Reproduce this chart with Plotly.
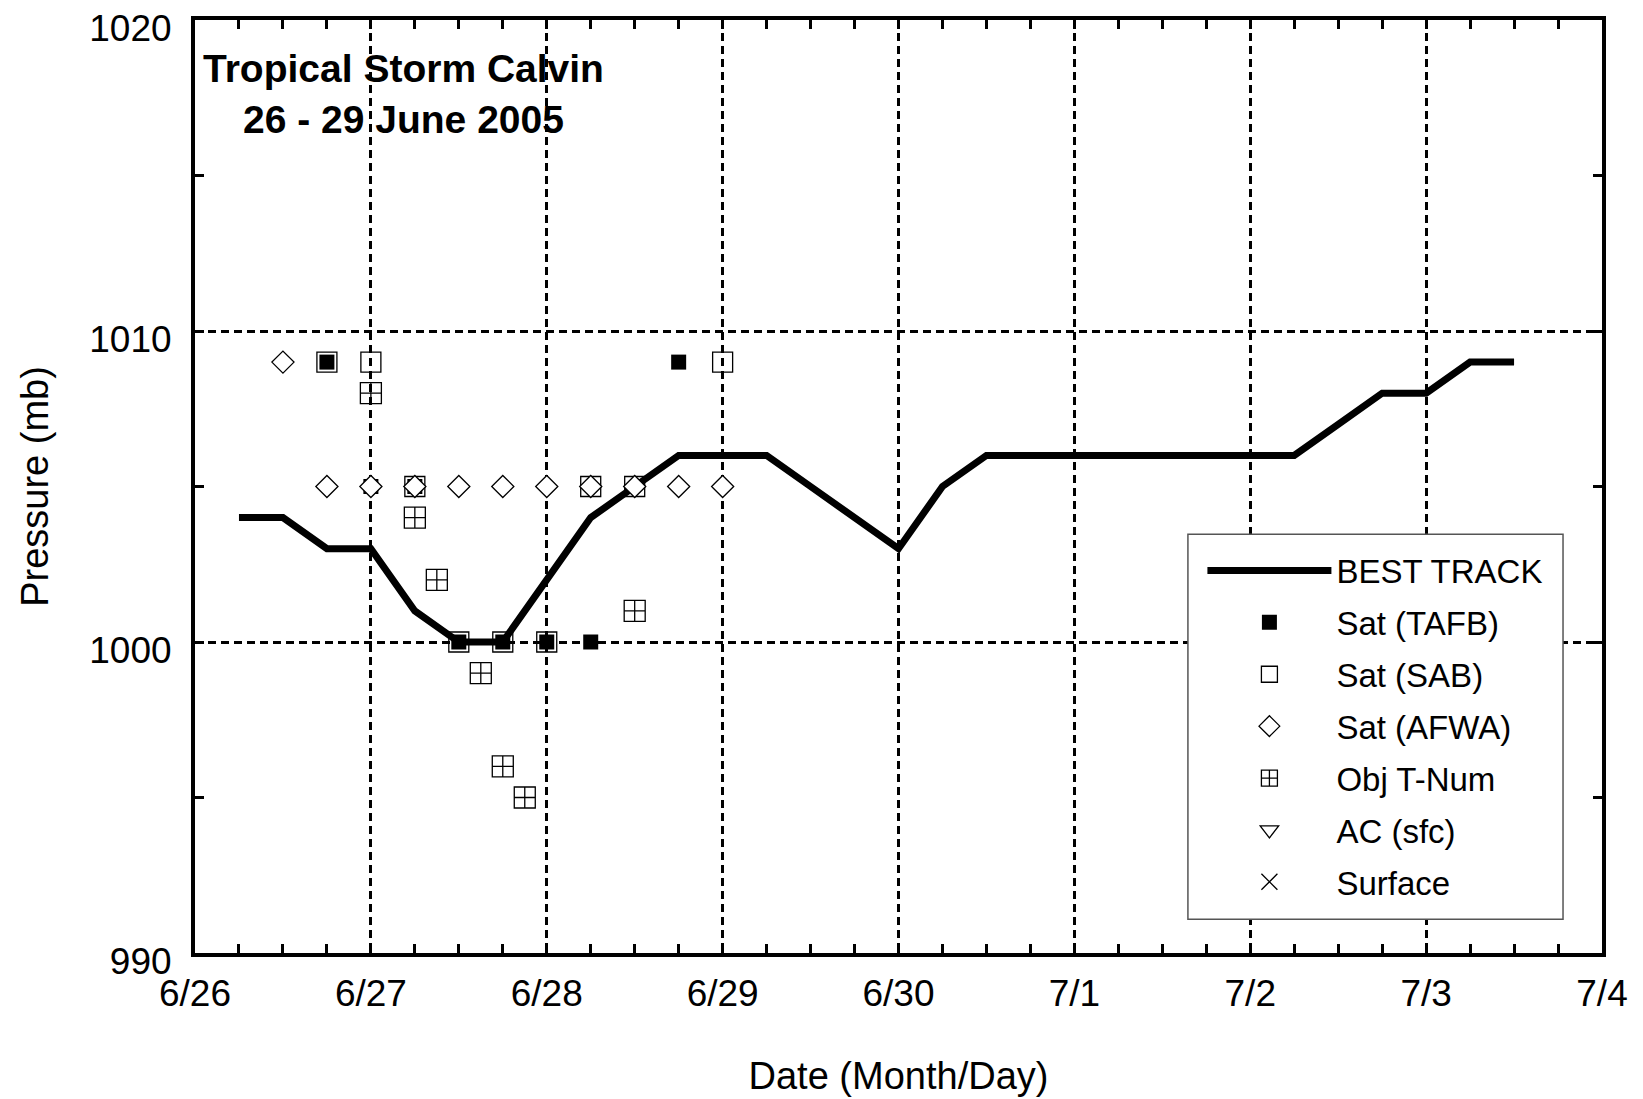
import plotly.graph_objects as go

# ---------------- data ----------------
bt_time = ["2005-06-26 06:00", "2005-06-26 12:00", "2005-06-26 18:00", "2005-06-27 00:00",
           "2005-06-27 06:00", "2005-06-27 12:00", "2005-06-27 18:00", "2005-06-28 00:00",
           "2005-06-28 06:00", "2005-06-28 12:00", "2005-06-28 18:00", "2005-06-29 00:00",
           "2005-06-29 06:00", "2005-06-29 12:00", "2005-06-29 18:00", "2005-06-30 00:00",
           "2005-06-30 06:00", "2005-06-30 12:00", "2005-06-30 18:00", "2005-07-01 00:00",
           "2005-07-01 06:00", "2005-07-01 12:00", "2005-07-01 18:00", "2005-07-02 00:00",
           "2005-07-02 06:00", "2005-07-02 12:00", "2005-07-02 18:00", "2005-07-03 00:00",
           "2005-07-03 06:00", "2005-07-03 12:00"]
bt_pres = [1004, 1004, 1003, 1003, 1001, 1000, 1000, 1002, 1004, 1005, 1006, 1006,
           1006, 1005, 1004, 1003, 1005, 1006, 1006, 1006, 1006, 1006, 1006, 1006,
           1006, 1007, 1008, 1008, 1009, 1009]

tafb_time = ["2005-06-26 18:00", "2005-06-27 00:00", "2005-06-27 06:00", "2005-06-27 12:00",
             "2005-06-27 18:00", "2005-06-28 00:00", "2005-06-28 06:00", "2005-06-28 18:00"]
tafb_pres = [1009, 1005, 1005, 1000, 1000, 1000, 1000, 1009]

sab_time = ["2005-06-26 18:00", "2005-06-27 00:00", "2005-06-27 06:00", "2005-06-27 12:00",
            "2005-06-27 18:00", "2005-06-28 00:00", "2005-06-28 06:00", "2005-06-28 12:00",
            "2005-06-29 00:00"]
sab_pres = [1009, 1009, 1005, 1000, 1000, 1000, 1005, 1005, 1009]

afwa_time = ["2005-06-26 12:00", "2005-06-26 18:00", "2005-06-27 00:00", "2005-06-27 06:00",
             "2005-06-27 12:00", "2005-06-27 18:00", "2005-06-28 00:00", "2005-06-28 06:00",
             "2005-06-28 12:00", "2005-06-28 18:00", "2005-06-29 00:00"]
afwa_pres = [1009, 1005, 1005, 1005, 1005, 1005, 1005, 1005, 1005, 1005, 1005]

objt_time = ["2005-06-27 00:00", "2005-06-27 06:00", "2005-06-27 09:00", "2005-06-27 15:00",
             "2005-06-27 18:00", "2005-06-27 21:00", "2005-06-28 12:00"]
objt_pres = [1008, 1004, 1002, 999, 996, 995, 1001]

ac_time, ac_pres = [None], [None]
sfc_time, sfc_pres = [None], [None]

x_range = ["2005-06-26 00:00", "2005-07-04 00:00"]
y_range = [990, 1020]
title_text = "<b>Tropical Storm Calvin<br>26 - 29 June 2005</b>"

FONT = "Arial, Liberation Sans, sans-serif"

# ---------------- figure ----------------
fig = go.Figure()

fig.add_trace(go.Scatter(x=bt_time, y=bt_pres, mode="lines", name="BEST TRACK",
                         line=dict(color="black", width=7), legendgroup="g1"))
fig.add_trace(go.Scatter(x=tafb_time, y=tafb_pres, mode="markers", name="Sat (TAFB)",
                         marker=dict(symbol="square", size=15, color="black",
                                     line=dict(width=0)), legendgroup="g2"))
fig.add_trace(go.Scatter(x=sab_time, y=sab_pres, mode="markers", name="Sat (SAB)",
                         marker=dict(symbol="square-open", size=20, color="black",
                                     line=dict(width=1.3, color="black")), legendgroup="g3"))
fig.add_trace(go.Scatter(x=afwa_time, y=afwa_pres, mode="markers", name="Sat (AFWA)",
                         marker=dict(symbol="diamond", size=17, color="white",
                                     line=dict(width=1.3, color="black")), legendgroup="g4"))
fig.add_trace(go.Scatter(x=objt_time, y=objt_pres, mode="markers", name="Obj T-Num",
                         marker=dict(symbol="square-cross-open", size=21, color="black",
                                     line=dict(width=1.3, color="black")), legendgroup="g5"))
fig.add_trace(go.Scatter(x=ac_time, y=ac_pres, mode="markers", name="AC (sfc)",
                         marker=dict(symbol="triangle-down-open", size=18, color="black",
                                     line=dict(width=1.3, color="black")), legendgroup="g6"))
fig.add_trace(go.Scatter(x=sfc_time, y=sfc_pres, mode="markers", name="Surface",
                         marker=dict(symbol="x-thin-open", size=18, color="black",
                                     line=dict(width=1.3, color="black")), legendgroup="g7"))

axis_common = dict(
    showline=True, linecolor="black", linewidth=4, mirror="ticks",
    ticks="inside", ticklen=9, tickwidth=3, tickcolor="black",
    showgrid=True, gridcolor="black", gridwidth=2.5, griddash="8px,5px",
    zeroline=False, ticklabeloverflow="allow", automargin=False,
    tickfont=dict(family=FONT, size=37, color="black"),
)

fig.update_xaxes(
    **axis_common,
    type="date", range=x_range, tick0="2005-06-26", dtick=86400000,
    tickformat="%-m/%-d", ticklabelstandoff=5,
    minor=dict(dtick=21600000, ticks="inside", ticklen=9, tickwidth=3,
               tickcolor="black", showgrid=False),
    title=dict(text="Date (Month/Day)", font=dict(family=FONT, size=38, color="black"),
               standoff=50),
)
fig.update_yaxes(
    **axis_common,
    range=y_range, dtick=10, tick0=990, ticklabelstandoff=12, ticklabelshift=8,
    minor=dict(dtick=5, ticks="inside", ticklen=9, tickwidth=3,
               tickcolor="black", showgrid=False),
    title=dict(text="Pressure (mb)", font=dict(family=FONT, size=38, color="black"),
               standoff=30),
)

fig.add_annotation(text=title_text, xref="paper", yref="paper", x=0.148, y=0.921,
                   xanchor="center", yanchor="middle", showarrow=False, align="center",
                   font=dict(family=FONT, size=39, color="black"))

# legend frame (covers grid lines like the original)
fig.add_shape(type="rect", xref="paper", yref="paper",
              x0=0.7057, x1=0.9723, y0=0.0363, y1=0.4487, layer="above",
              fillcolor="white", line=dict(color="#555555", width=1.5))

fig.update_layout(
    width=1643, height=1099,
    margin=dict(l=187, r=49, t=12, b=154, autoexpand=False),
    paper_bgcolor="white", plot_bgcolor="white",
    font=dict(family=FONT, color="black"),
    legend=dict(x=0.716, y=0.440, xanchor="left", yanchor="top",
                bgcolor="rgba(0,0,0,0)", borderwidth=0,
                font=dict(family=FONT, size=33, color="black"),
                itemwidth=124, tracegroupgap=6, itemsizing="trace"),
    showlegend=True,
)

fig.write_html("out.html")
